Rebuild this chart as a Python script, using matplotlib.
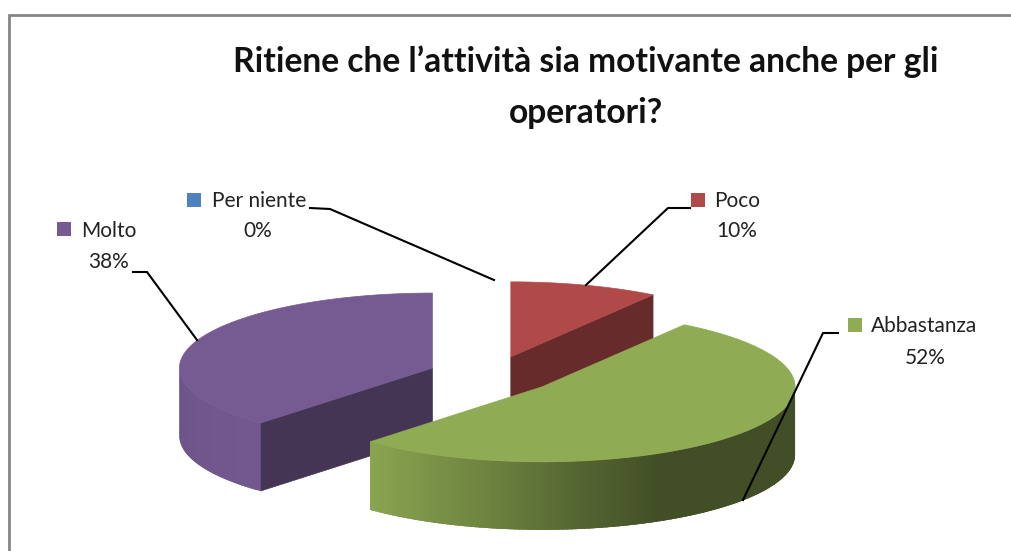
# plot: exploded 3D style pie, satisfaction survey
import numpy as np
import matplotlib
matplotlib.use('Agg')
import matplotlib.pyplot as plt
from matplotlib.collections import PolyCollection

plt.rcParams['font.family'] = ['Lato', 'DejaVu Sans']

title_lines = ['Ritiene che l’attività sia motivante anche per gli', 'operatori?']
categories = ['Per niente', 'Poco', 'Abbastanza', 'Molto']
shares = [0, 9.5, 52.4, 38.1]
percent_labels = ['0%', '10%', '52%', '38%']
colors = ['#4f81bd', '#b04a48', '#8fab53', '#765b93']

# pie geometry in image pixels
base_x, base_y = 492, 375
radius_x, radius_y = 253, 75
explode = 64
depth = 68
cut_dark = 0.58

# brightness of the outer wall against the pie angle
shade_angle = [90, 152, 170, 194, 223, 270]
shade_value = [0.46, 0.46, 0.58, 0.78, 0.97, 0.92]

# key square, first text line, second text line
label_pos = {
    'Per niente': ((187, 193), (212, 201), (258, 231)),
    'Poco': ((691, 193), (714, 201), (737, 231)),
    'Abbastanza': ((848, 318), (871, 326), (925, 358)),
    'Molto': ((57, 222), (81, 231), (109, 262)),
}
leaders = [
    ([310, 330, 494], [208, 209, 280]),
    ([690, 668, 586], [208, 208, 285]),
    ([838, 823, 743], [333, 333, 500]),
    ([133, 147, 197], [272, 272, 340]),
]


def rim(cx, cy, deg):
    t = np.radians(deg)
    return cx + radius_x * np.sin(t), cy - radius_y * np.cos(t)


def scaled(color, f):
    return tuple(c * f for c in matplotlib.colors.to_rgb(color))


def draw_slice(ax, start, end, color):
    mid = np.radians((start + end) / 2)
    cx = base_x + explode * np.sin(mid)
    cy = base_y - explode * radius_y / radius_x * np.cos(mid)
    dark = scaled(color, cut_dark)

    # cut faces that look towards the viewer
    for a, visible in ((start, np.sin(np.radians(start)) < -1e-6),
                       (end, np.sin(np.radians(end)) > 1e-6)):
        if visible:
            x, y = rim(cx, cy, a)
            ax.fill([cx, x, x, cx], [cy, y, y + depth, cy + depth],
                    color=dark, lw=0.5, zorder=2)

    # outer wall, only the front half of the ellipse shows
    lo, hi = max(start, 90), min(end, 270)
    if hi > lo:
        steps = np.arange(lo, hi + 1, 1.0)
        steps[-1] = hi
        polys, cols = [], []
        for a, b in zip(steps[:-1], steps[1:]):
            # each strip runs under the next one so no seams show
            xa, ya = rim(cx, cy, a)
            xb, yb = rim(cx, cy, min(b + 1.5, hi))
            polys.append([(xa, ya), (xb, yb), (xb, yb + depth), (xa, ya + depth)])
            cols.append(scaled(color, np.interp((a + b) / 2, shade_angle, shade_value)))
        ax.add_collection(PolyCollection(polys, facecolors=cols, edgecolors='none', zorder=2))

    # top surface
    t = np.linspace(start, end, 200)
    x, y = rim(cx, cy, t)
    ax.fill(np.r_[cx, x], np.r_[cy, y], color=color, lw=0.5, zorder=2)


fig = plt.figure(figsize=(10.11, 5.51), dpi=100)
ax = fig.add_axes([0, 0, 1, 1])
ax.set_xlim(0, 1011)
ax.set_ylim(551, 0)
ax.axis('off')

# chart frame, only top and left are in the crop
ax.plot([8.5, 8.5, 1011], [551, 15, 15], color='#868686', lw=2.0, solid_joinstyle='miter')

for line, y in zip(title_lines, [62, 113]):
    ax.text(586, y, line, ha='center', va='center', fontsize=24.2, fontweight='bold',
            color='#111111')

# painter's order: back slices first, the big front slice last
edges = np.cumsum([0] + shares) * 3.6
for i in [1, 3, 2]:
    draw_slice(ax, edges[i], edges[i + 1], colors[i])

for xs, ys in leaders:
    ax.plot(xs, ys, color='black', lw=1.5, zorder=4)

for name, pct, col in zip(categories, percent_labels, colors):
    key, first, second = label_pos[name]
    ax.add_patch(plt.Rectangle(key, 13.5, 14, color=col, lw=0, zorder=5))
    ax.text(first[0], first[1], name, ha='left', va='center', fontsize=15, color='#222222')
    ax.text(second[0], second[1], pct, ha='center', va='center', fontsize=15, color='#222222')

fig.savefig('out.png', dpi=100)
